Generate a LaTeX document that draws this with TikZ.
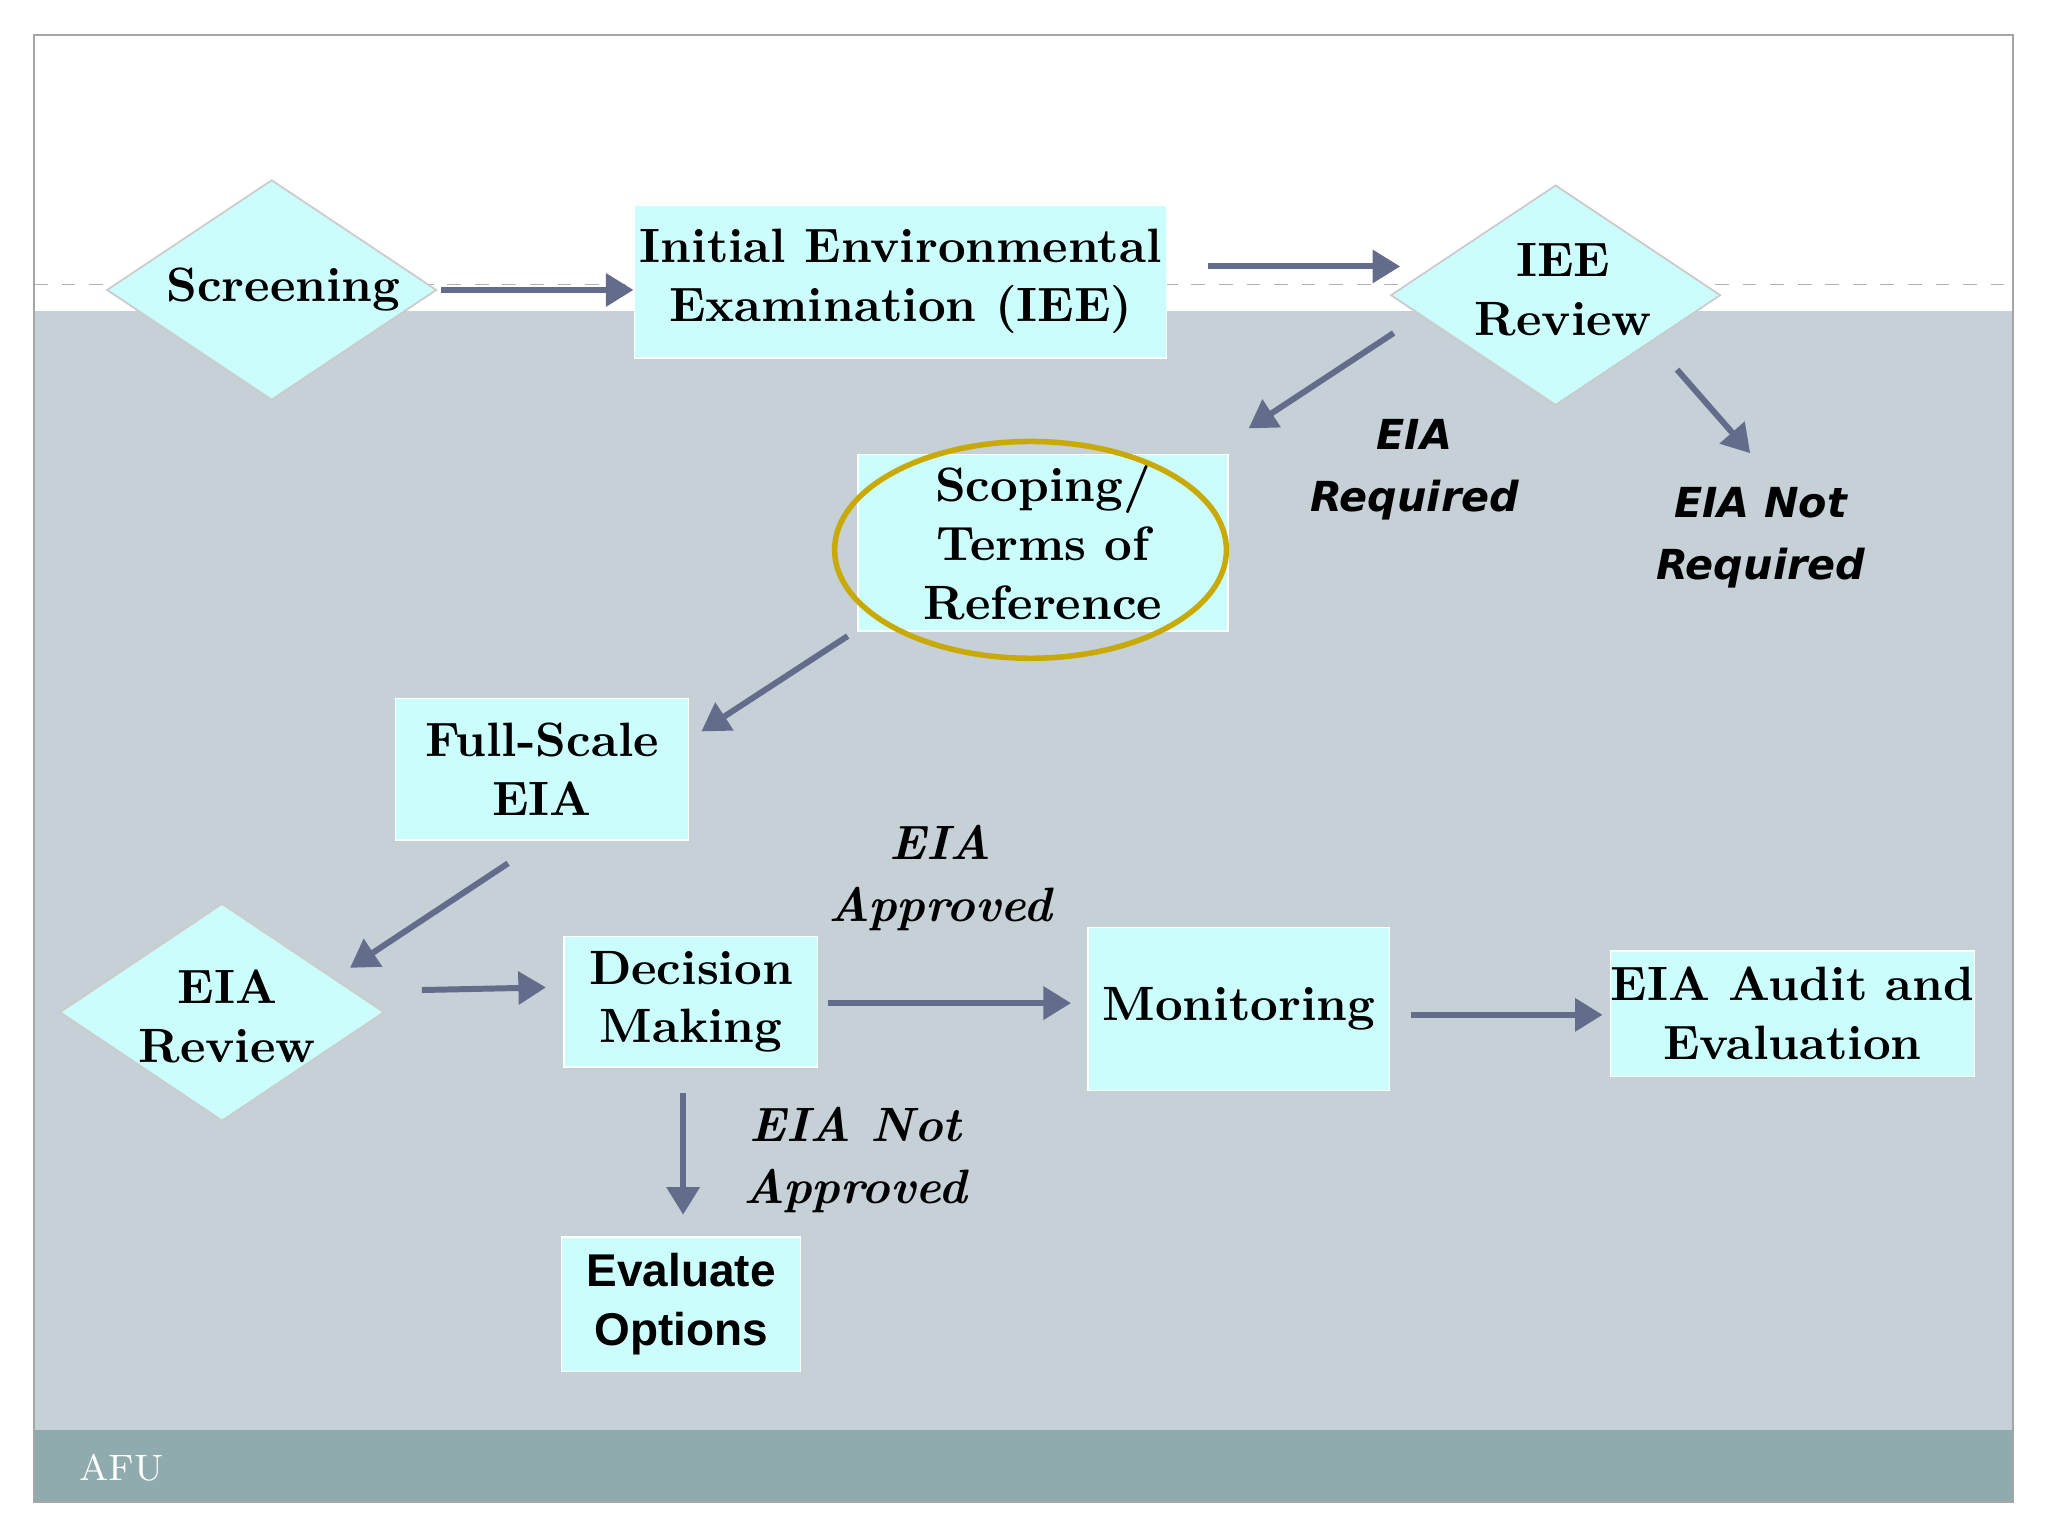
\documentclass[tikz,border=0pt]{standalone}
\usepackage{fontspec}
\newfontfamily\dejavu{DejaVu Sans}
\newfontfamily\libsans{Liberation Sans}
\usetikzlibrary{shapes.geometric,arrows.meta}
\definecolor{BoxCyan}{HTML}{CCFDFD}
\definecolor{BgGray}{HTML}{C5D0D7}
\definecolor{Footer}{HTML}{8FABAE}
\definecolor{ArrowCol}{HTML}{646C8C}
\definecolor{Ring}{HTML}{C9A905}
\tikzset{
  box/.style={rectangle, fill=BoxCyan, draw=white, line width=0.3pt, inner sep=0pt, align=center,
              font=\fontsize{10.5}{12.8}\selectfont\bfseries},
  dtext/.style={align=center, inner sep=0pt, font=\fontsize{10.5}{12.8}\selectfont\bfseries},
  diapath/.style={fill=BoxCyan, draw=gray!40, line width=0.4pt},
  lbl/.style={align=center, font=\dejavu\fontsize{9}{13.5}\selectfont\bfseries\itshape},
  slbl/.style={align=center, font=\fontsize{10.5}{13.5}\selectfont\bfseries\itshape},
  flow/.style={draw=ArrowCol, line width=1.3pt, -{Triangle[length=6pt,width=7pt]}}
}
\begin{document}
\begin{tikzpicture}[x=0.01cm,y=-0.01cm]
\useasboundingbox (0,0) rectangle (1568,1176);
\fill[white] (0,0) rectangle (1568,1176);
% slide background
\fill[BgGray] (26,238) rectangle (1541,1095);
\fill[Footer] (26,1095) rectangle (1541,1150);
\draw[gray!60, dashed, line width=0.3pt] (26,218) -- (1541,218);
\draw[gray!70, line width=0.5pt] (26,27) rectangle (1541,1150);
\node[text=gray, font=\fontsize{9}{10}\selectfont] (pg) at (788,215) {10};
\node[text=white, font=\fontsize{8}{10}\selectfont] (afu) at (93,1124) {AFU};

% diamonds
\draw[diapath] (82,222) -- (208,138) -- (334,222) -- (208,306) -- cycle;
\node[dtext] (scr) at (217,222) {Screening};
\draw[diapath] (1065,226) -- (1191,142) -- (1317,226) -- (1191,310) -- cycle;
\node[dtext] (ieer) at (1197,222) {IEE\\Review};
\draw[diapath] (46,775) -- (170,692) -- (294,775) -- (170,858) -- cycle;
\node[dtext] (eiar) at (174,778) {EIA\\Review};

% boxes
\node[box, minimum width=4.07cm, minimum height=1.17cm] (iee) at (689.5,215.5) {Initial Environmental\\Examination (IEE)};
\node[box, minimum width=2.83cm, minimum height=1.35cm] (scope) at (798.5,415.5) {Scoping/\\Terms of\\Reference};
\draw[Ring, line width=1.2pt] (789,421) ellipse [x radius=150, y radius=83];
\node[box, minimum width=2.24cm, minimum height=1.08cm] (full) at (415,589) {Full-Scale\\EIA};
\node[box, minimum width=1.94cm, minimum height=1.00cm] (dec) at (529,767) {Decision\\Making};
\node[box, minimum width=2.31cm, minimum height=1.25cm] (mon) at (948.5,772.5) {Monitoring};
\node[box, minimum width=2.69cm, minimum height=0.96cm] (aud) at (1372.5,776) {EIA Audit and\\Evaluation};
\node[box, minimum width=1.83cm, minimum height=1.03cm, font=\libsans\fontsize{10}{12.8}\selectfont\bfseries] (eval) at (521.5,998.5) {Evaluate\\Options};

% labels
\node[lbl] (req) at (1083,360) {EIA\\Required};
\node[lbl] (nreq) at (1348,412) {EIA Not\\Required};
\node[slbl] (app) at (720,672) {EIA\\Approved};
\node[slbl] (napp) at (655,888) {EIA Not\\Approved};

% arrow ends
\coordinate (a1s) at (338,222); \coordinate (a1e) at (485,222);
\coordinate (a2s) at (925,204); \coordinate (a2e) at (1072,204);
\coordinate (a3s) at (1067,255); \coordinate (a3e) at (956,328);
\coordinate (a4s) at (1284,283); \coordinate (a4e) at (1340,347);
\coordinate (a5s) at (649,487); \coordinate (a5e) at (537,560);
\coordinate (a6s) at (389,661); \coordinate (a6e) at (268,741);
\coordinate (a7s) at (323,758); \coordinate (a7e) at (418,756);
\coordinate (a8s) at (634,768); \coordinate (a8e) at (820,768);
\coordinate (a9s) at (1080,777); \coordinate (a9e) at (1227,777);
\coordinate (a10s) at (523,837); \coordinate (a10e) at (523,930);
\foreach \i in {1,...,10} \draw[flow] (a\i s) -- (a\i e);
\end{tikzpicture}
\end{document}
